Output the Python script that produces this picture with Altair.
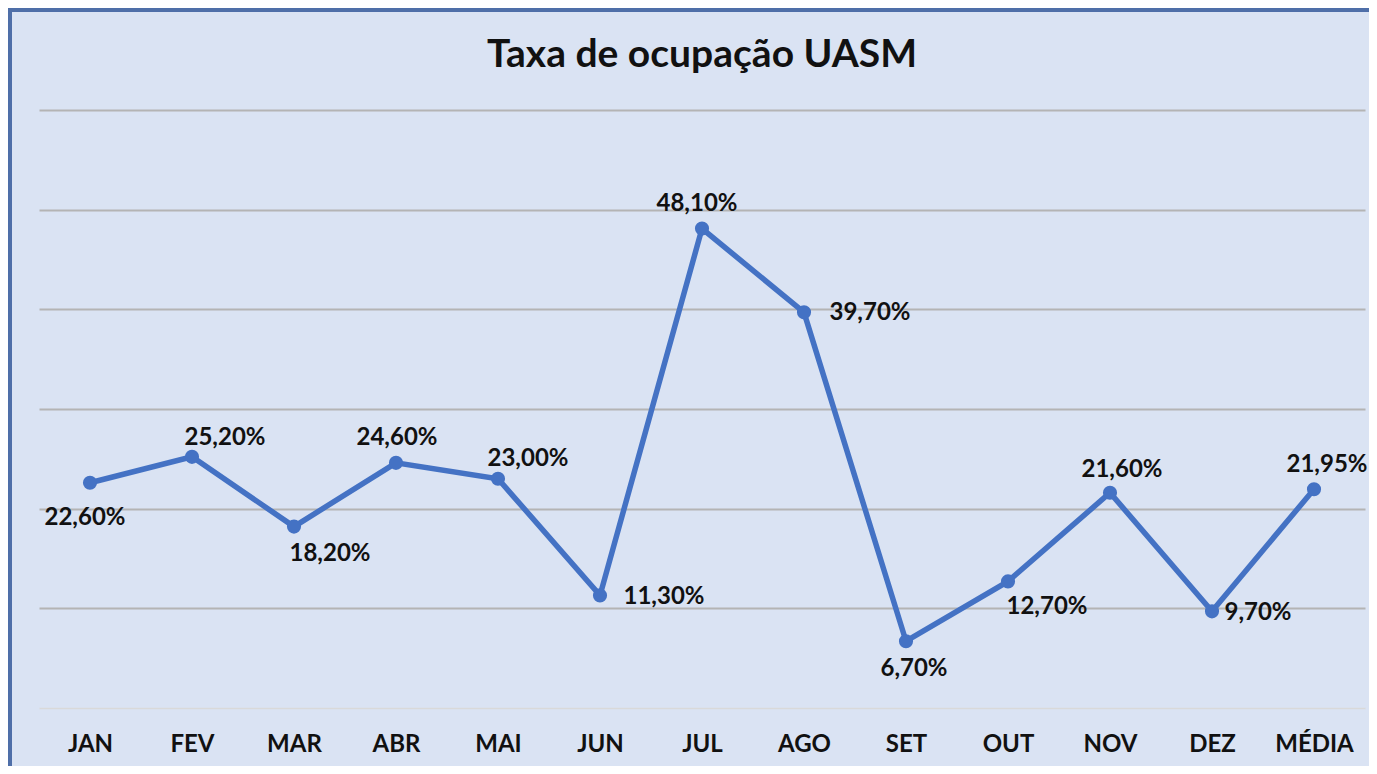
import altair as alt
import pandas as pd

months = ["JAN", "FEV", "MAR", "ABR", "MAI", "JUN", "JUL", "AGO", "SET", "OUT", "NOV", "DEZ", "MÉDIA"]
values = [22.6, 25.2, 18.2, 24.6, 23.0, 11.3, 48.1, 39.7, 6.7, 12.7, 21.6, 9.7, 21.95]
labels = ["22,60%", "25,20%", "18,20%", "24,60%", "23,00%", "11,30%", "48,10%",
          "39,70%", "6,70%", "12,70%", "21,60%", "9,70%", "21,95%"]
title_text = "Taxa de ocupação UASM"

df = pd.DataFrame({"mes": months, "taxa": values, "rotulo": labels})

# label placement offsets (style, px)
label_offsets = {
    "JAN": (-5, 35), "FEV": (33, -19), "MAR": (36, 27), "ABR": (1, -25),
    "MAI": (30, -20), "JUN": (64, 2), "JUL": (-5, -25), "AGO": (66, 1),
    "SET": (8, 28), "OUT": (39, 26), "NOV": (12, -23), "DEZ": (46, 2),
    "MÉDIA": (13, -24),
}

FONT = "Lato"
BG = "#DAE3F3"
LINE = "#4472C4"

x = alt.X("mes:N", sort=months, scale=alt.Scale(type="point", padding=0.5),
          axis=alt.Axis(title=None, labelAngle=0, ticks=False, domain=True,
                        domainColor="#D9D9D9", domainWidth=1.5,
                        labelFont=FONT, labelFontWeight="bold", labelFontSize=24,
                        labelColor="#111111", labelPadding=24))
y = alt.Y("taxa:Q", scale=alt.Scale(domain=[0, 60], nice=False, zero=True),
          axis=alt.Axis(title=None, labels=False, ticks=False, domain=False,
                        values=[10, 20, 30, 40, 50, 60], grid=True,
                        gridColor="#B4B4B4", gridWidth=2))

base = alt.Chart(df)

line = base.mark_line(color=LINE, strokeWidth=5.5).encode(x=x, y=y)
points = base.mark_point(color=LINE, filled=True, size=200, opacity=1).encode(x=x, y=y)

text_layers = []
for m in months:
    dx, dy = label_offsets[m]
    text_layers.append(
        base.transform_filter(alt.datum.mes == m).mark_text(
            font=FONT, fontWeight="bold", fontSize=24, color="#111111",
            dx=dx, dy=dy, baseline="middle", align="center"
        ).encode(x=alt.X("mes:N", sort=months), y="taxa:Q", text="rotulo:N")
    )

title_mark = alt.Chart(pd.DataFrame({"t": [title_text]})).mark_text(
    font=FONT, fontWeight="bold", fontSize=39, color="#111111",
    align="center", baseline="alphabetic"
).encode(x=alt.value(663), y=alt.value(-43), text="t:N")

frame_left = base.mark_rule(color="#4F6FA8", strokeWidth=3).encode(
    x=alt.value(-29), y=alt.value(-102), y2=alt.value(660))
frame_top = base.mark_rule(color="#4F6FA8", strokeWidth=3).encode(
    x=alt.value(-31), x2=alt.value(1330), y=alt.value(-100))

chart = alt.layer(line, points, *text_layers, title_mark, frame_left, frame_top).properties(
    width=1326, height=598,
    background=BG,
    padding={"left": 31, "top": 102, "right": 4, "bottom": 58},
    autosize=alt.AutoSizeParams(type="none"),
).configure_view(stroke=None)

chart.save("out.html", embed_options={"renderer": "svg", "actions": False})
